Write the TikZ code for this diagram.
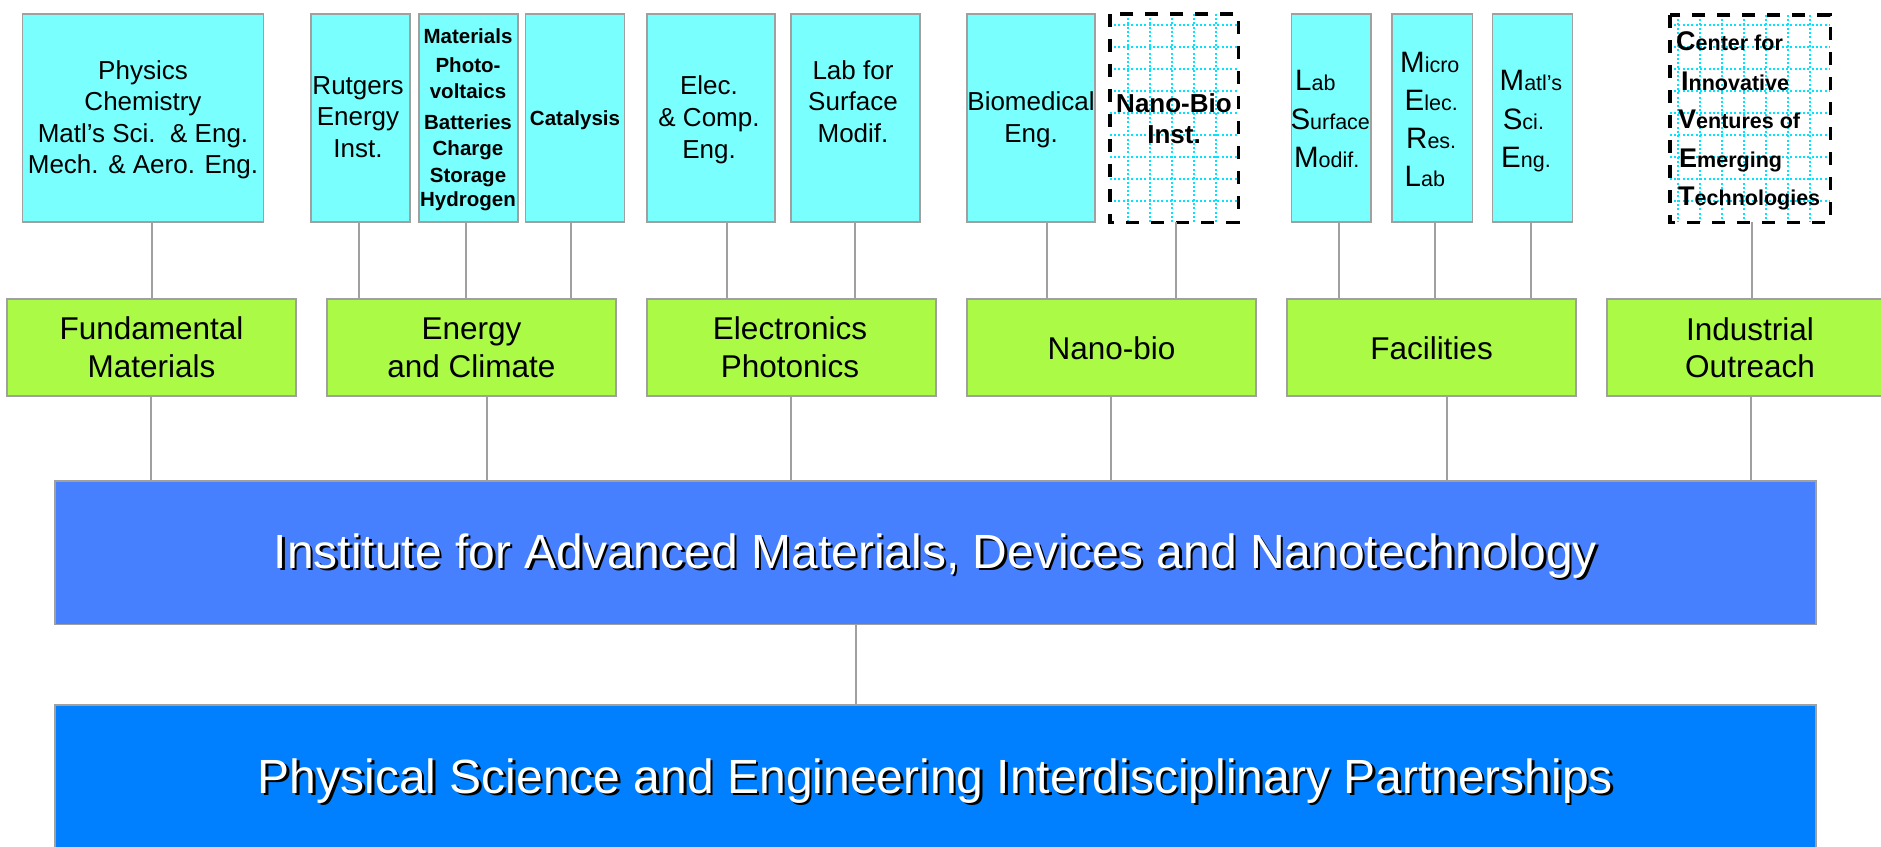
\documentclass[tikz,border=0pt]{standalone}
\usepackage{fontspec}
\setmainfont{Liberation Sans}
\definecolor{cyanfill}{RGB}{122,255,255}
\definecolor{greenfill}{RGB}{170,250,70}
\definecolor{blueA}{RGB}{70,128,255}
\definecolor{blueB}{RGB}{0,128,255}
\definecolor{edge}{RGB}{160,160,160}
\definecolor{gridcyan}{RGB}{0,228,255}
\newcommand\myBig[1]{{\fontsize{29.5}{32}\selectfont #1}}
\newcommand\mySmall[1]{{\fontsize{21.5}{24}\selectfont #1}}
\newcommand\myBigB[1]{{\bfseries\fontsize{27}{30}\selectfont #1}}
\newcommand\mySmallB[1]{{\bfseries\fontsize{21.5}{24}\selectfont #1}}
\tikzset{
 topbox/.style={draw=edge, line width=1.6pt, fill=cyanfill, minimum height=208pt, inner sep=0pt},
 grnbox/.style={draw=edge, line width=1.6pt, fill=greenfill, minimum height=97pt, minimum width=289pt, inner sep=0pt},
 bluebox/.style={draw=edge, line width=1.6pt, minimum width=1761pt, inner sep=0pt},
 dashfill/.style={fill=white, inner sep=0pt},
 dashborder/.style={draw=black, line width=3.4pt, dash pattern=on 13pt off 12pt},
 gridline/.style={draw=gridcyan, line width=2pt, dash pattern=on 2pt off 2.3pt},
 wire/.style={draw=edge, line width=1.4pt},
 tx/.style={anchor=base, inner sep=0pt, font=\fontsize{26}{30}\selectfont},
 txb/.style={anchor=base, inner sep=0pt, font=\bfseries\fontsize{20.5}{24}\selectfont},
 txbb/.style={anchor=base, inner sep=0pt, font=\bfseries\fontsize{26}{30}\selectfont},
 txl/.style={anchor=base west, inner sep=0pt},
 txg/.style={anchor=base, inner sep=0pt, font=\fontsize{31.5}{36}\selectfont},
 txw/.style={anchor=base, inner sep=0pt, font=\fontsize{48}{56}\selectfont, text=white},
 txs/.style={anchor=base, inner sep=0pt, font=\fontsize{48}{56}\selectfont, text=black},
}
\begin{document}
\begin{tikzpicture}[x=1pt,y=-1pt]
\useasboundingbox (0,0) rectangle (1881,846);
\clip (0,0) rectangle (1881,846);
\fill[white] (0,0) rectangle (1881,846);

% top boxes
\node[topbox, minimum width=241pt] (phys) at (143,118) {};
\node[topbox, minimum width=99pt] (rei) at (360.5,118) {};
\node[topbox, minimum width=99pt] (mat) at (468.5,118) {};
\node[topbox, minimum width=99pt] (cat) at (575,118) {};
\node[topbox, minimum width=128pt] (ece) at (711,118) {};
\node[topbox, minimum width=129pt] (lsf) at (855.5,118) {};
\node[topbox, minimum width=128pt] (bme) at (1031,118) {};
\node[topbox, minimum width=79.5pt] (lsm) at (1331.25,118) {};
\node[topbox, minimum width=80.5pt] (merl) at (1432.25,118) {};
\node[topbox, minimum width=80pt] (mse) at (1532.5,118) {};

% dashed grid boxes
\node[dashfill, minimum width=128pt, minimum height=208pt] (nbi) at (1174,118) {};
\foreach \x in {1128,1150,1172,1194,1216}
  \draw[gridline] (\x,0 |- nbi.north) -- (\x,0 |- nbi.south);
\foreach \y in {25,47,69,91,113,135,157,179,201}
  \draw[gridline] (nbi.west |- 0,\y) -- (nbi.east |- 0,\y);
\draw[dashborder] (nbi.north west) rectangle (nbi.south east);

\node[dashfill, minimum width=160pt, minimum height=207pt] (civet) at (1750,118.5) {};
\foreach \x in {1677.5,1699.5,1721.5,1743.5,1765.5,1787.5,1809.5}
  \draw[gridline] (\x,0 |- civet.north) -- (\x,0 |- civet.south);
\foreach \y in {25,47,69,91,113,135,157,179,201}
  \draw[gridline] (civet.west |- 0,\y) -- (civet.east |- 0,\y);
\draw[dashborder] (civet.north west) rectangle (civet.south east);

% green boxes
\node[grnbox] (fm) at (151.5,347.5) {};
\node[grnbox] (ec) at (471.5,347.5) {};
\node[grnbox] (ep) at (791.5,347.5) {};
\node[grnbox] (nb) at (1111.5,347.5) {};
\node[grnbox] (fac) at (1431.5,347.5) {};
\node[grnbox] (io) at (1751.5,347.5) {};

% blue boxes
\node[bluebox, fill=blueA, minimum height=143.5pt] (inst) at (935.5,552.75) {};
\node[bluebox, fill=blueB, minimum height=195pt] (psp) at (935.5,802.5) {};

% connectors top -> green
\draw[wire] (phys.south -| 152,0) -- (fm.north -| 152,0);
\draw[wire] (rei.south -| 359,0) -- (ec.north -| 359,0);
\draw[wire] (mat.south -| 466,0) -- (ec.north -| 466,0);
\draw[wire] (cat.south -| 571,0) -- (ec.north -| 571,0);
\draw[wire] (ece.south -| 727,0) -- (ep.north -| 727,0);
\draw[wire] (lsf.south -| 855,0) -- (ep.north -| 855,0);
\draw[wire] (bme.south -| 1047,0) -- (nb.north -| 1047,0);
\draw[wire] (nbi.south -| 1176,0) -- (nb.north -| 1176,0);
\draw[wire] (lsm.south -| 1339,0) -- (fac.north -| 1339,0);
\draw[wire] (merl.south -| 1435,0) -- (fac.north -| 1435,0);
\draw[wire] (mse.south -| 1531,0) -- (fac.north -| 1531,0);
\draw[wire] (civet.south -| 1752,0) -- (io.north -| 1752,0);
% green -> institute
\draw[wire] (fm.south -| 151,0) -- (inst.north -| 151,0);
\draw[wire] (ec.south -| 487,0) -- (inst.north -| 487,0);
\draw[wire] (ep.south -| 791,0) -- (inst.north -| 791,0);
\draw[wire] (nb.south -| 1111,0) -- (inst.north -| 1111,0);
\draw[wire] (fac.south -| 1447,0) -- (inst.north -| 1447,0);
\draw[wire] (io.south -| 1751,0) -- (inst.north -| 1751,0);
\draw[wire] (inst.south -| 856,0) -- (psp.north -| 856,0);

% texts top boxes
\node[tx] (t-ph1) at (143,79) {Physics};
\node[tx] (t-ph2) at (143,110.5) {Chemistry};
\node[tx] (t-ph3) at (143,142) {Matl’s Sci.\hspace{0.556em}\& Eng.};
\node[tx] (t-ph4) at (143,173.5) {Mech. \& Aero. Eng.};

\node[tx] (t-re1) at (358,94) {Rutgers};
\node[tx] (t-re2) at (358,125.5) {Energy};
\node[tx] (t-re3) at (358,157) {Inst.};

\node[txb] (t-ma1) at (468,43) {Materials};
\node[txb] (t-ma2) at (468,72.5) {Photo-};
\node[txb] (t-ma3) at (468,98.5) {voltaics};
\node[txb] (t-ma4) at (468,129) {Batteries};
\node[txb] (t-ma5) at (468,155.5) {Charge};
\node[txb] (t-ma6) at (468,182) {Storage};
\node[txb] (t-ma7) at (468,206) {Hydrogen};

\node[txb] (t-ca1) at (575,125) {Catalysis};

\node[tx] (t-ec1) at (709,94) {Elec.};
\node[tx] (t-ec2) at (709,126) {\& Comp.};
\node[tx] (t-ec3) at (709,158) {Eng.};

\node[tx] (t-ls1) at (853,79) {Lab for};
\node[tx] (t-ls2) at (853,110.5) {Surface};
\node[tx] (t-ls3) at (853,142) {Modif.};

\node[tx] (t-bm1) at (1031,110.5) {Biomedical};
\node[tx] (t-bm2) at (1031,142.5) {Eng.};

\node[txbb] (t-nb1) at (1174,112) {Nano-Bio};
\node[txbb] (t-nb2) at (1174,143) {Inst.};

\node[txl] (t-lm1) at (1295,90) {\myBig{L}\mySmall{ab}};
\node[txl] (t-lm2) at (1290.3,129) {\myBig{S}\mySmall{urface}};
\node[txl] (t-lm3) at (1293.8,167) {\myBig{M}\mySmall{odif.}};

\node[txl] (t-me1) at (1400,72) {\myBig{M}\mySmall{icro}};
\node[txl] (t-me2) at (1404.4,110) {\myBig{E}\mySmall{lec.}};
\node[txl] (t-me3) at (1406,148) {\myBig{R}\mySmall{es.}};
\node[txl] (t-me4) at (1404.5,186) {\myBig{L}\mySmall{ab}};

\node[txl] (t-ms1) at (1499.5,90) {\myBig{M}\mySmall{atl’s}};
\node[txl] (t-ms2) at (1502.6,129) {\myBig{S}\mySmall{ci.}};
\node[txl] (t-ms3) at (1501,167) {\myBig{E}\mySmall{ng.}};

\node[txl] (t-cv1) at (1676,50) {\myBigB{C}\mySmallB{enter for}};
\node[txl] (t-cv2) at (1681,90) {\myBigB{I}\mySmallB{nnovative}};
\node[txl] (t-cv3) at (1678,128) {\myBigB{V}\mySmallB{entures of}};
\node[txl] (t-cv4) at (1679,167) {\myBigB{E}\mySmallB{merging}};
\node[txl] (t-cv5) at (1678,205) {\myBigB{T}\mySmallB{echnologies}};

% green texts
\node[txg] (t-fm1) at (151.5,339) {Fundamental};
\node[txg] (t-fm2) at (151.5,377) {Materials};
\node[txg] (t-ec1b) at (471.5,339) {Energy};
\node[txg] (t-ec2b) at (471.5,377) {and Climate};
\node[txg] (t-ep1) at (790,339) {Electronics};
\node[txg] (t-ep2) at (790,377) {Photonics};
\node[txg] (t-nb) at (1111.5,359) {Nano-bio};
\node[txg] (t-fa) at (1431.5,359) {Facilities};
\node[txg] (t-io1) at (1750,340) {Industrial};
\node[txg] (t-io2) at (1750,377.5) {Outreach};

% blue texts with shadow
\node[txs] (t-in-s) at (938,570.5) {Institute for Advanced Materials, Devices and Nanotechnology};
\node[txw] (t-in) at (935.5,568) {Institute for Advanced Materials, Devices and Nanotechnology};
\node[txs] (t-ps-s) at (938,795.5) {Physical Science and Engineering Interdisciplinary Partnerships};
\node[txw] (t-ps) at (935.5,793) {Physical Science and Engineering Interdisciplinary Partnerships};
\end{tikzpicture}
\end{document}
